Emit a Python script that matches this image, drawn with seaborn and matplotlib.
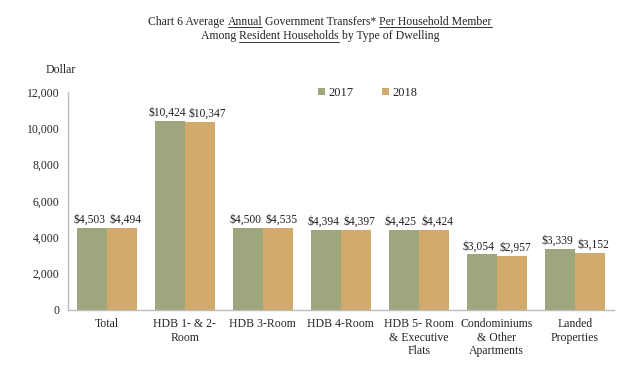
import numpy as np
import pandas as pd
import seaborn as sns
import matplotlib.pyplot as plt

categories = ["Total", "HDB 1- & 2-\nRoom", "HDB 3-Room", "HDB 4-Room",
              "HDB 5- Room\n& Executive\nFlats", "Condominiums\n& Other\nApartments",
              "Landed\nProperties"]
years = ["2017", "2018"]
vals_2017 = [4503, 10424, 4500, 4394, 4425, 3054, 3339]
vals_2018 = [4494, 10347, 4535, 4397, 4424, 2957, 3152]
colors = ["#9da67c", "#d2aa6b"]

df = pd.DataFrame({
    "cat": categories * 2,
    "year": [years[0]] * len(categories) + [years[1]] * len(categories),
    "value": vals_2017 + vals_2018,
})

sns.set_style("white")
plt.rcParams["font.family"] = ["Liberation Serif", "DejaVu Serif"]

fig = plt.figure(figsize=(6.4, 3.65), dpi=100)
ax = fig.add_axes([0.106, 0.151, 0.853, 0.597])
sns.barplot(data=df, x="cat", y="value", hue="year", palette=colors,
            width=0.77, saturation=1, linewidth=0, ax=ax)

# labels pushed a little outward from the bar centres, like the original
for i, (cont, vals) in enumerate(zip(ax.containers, [vals_2017, vals_2018])):
    labs = ax.bar_label(cont, labels=["${:,}".format(v) for v in vals], fontsize=8.3,
                        padding=1.5, color="#222222")
    for t, v in zip(labs, vals):
        if i == 0:
            dx = -2.0
        else:
            dx = 5.5 if v >= 10000 else 2.5
        t.xyann = (dx, 1.5)

ax.set_ylim(0, 12000)
ax.set_yticks(range(0, 12001, 2000))
ax.set_yticklabels(["{:,}".format(v) for v in range(0, 12001, 2000)], fontsize=8.5)
ax.set_xlim(-0.5, len(categories) - 0.5)
ax.set_xticks(np.arange(len(categories)))
ax.set_xticklabels(categories, fontsize=8.5, linespacing=1.15)
ax.set_xticks(np.arange(-0.5, len(categories)), minor=True)
ax.tick_params(axis="x", which="major", length=0, pad=6)
ax.tick_params(axis="x", which="minor", length=4, color="#bbbbbb", direction="out")
ax.tick_params(axis="y", length=3, color="#bbbbbb", direction="out", pad=3)
ax.set_xlabel("")
ax.set_ylabel("")
for s in ["top", "right"]:
    ax.spines[s].set_visible(False)
for s in ["left", "bottom"]:
    ax.spines[s].set_color("#bbbbbb")
    ax.spines[s].set_linewidth(1)

ax.legend(loc="upper left", bbox_to_anchor=(0.437, 1.075), ncol=2, frameon=False,
          fontsize=9, handlelength=0.6, handleheight=0.6, handletextpad=0.3,
          columnspacing=2.2)

fig.text(0.071, 0.807, "Dollar", fontsize=8.5, ha="left", va="center")

# title with underlined words
def title_line(parts, y):
    fig.canvas.draw()
    r = fig.canvas.get_renderer()
    texts = []
    widths = []
    for s, u in parts:
        t = fig.text(0, y, s, fontsize=8.5, ha="left", va="baseline")
        widths.append(t.get_window_extent(r).width)
        texts.append((t, u))
    total = sum(widths)
    x = (fig.bbox.width - total) / 2
    for (t, u), w in zip(texts, widths):
        t.set_x(x / fig.bbox.width)
        if u:
            xs = [x / fig.bbox.width, (x + w) / fig.bbox.width]
            fig.add_artist(plt.Line2D(xs, [y - 0.007, y - 0.007], color="#333333",
                                      lw=0.7, transform=fig.transFigure))
        x += w

title_line([("Chart 6 Average ", False), ("Annual", True),
            (" Government Transfers* ", False), ("Per Household Member", True)], 0.932)
title_line([("Among ", False), ("Resident Households", True),
            (" by Type of Dwelling", False)], 0.893)

fig.savefig("out.png", dpi=100)
